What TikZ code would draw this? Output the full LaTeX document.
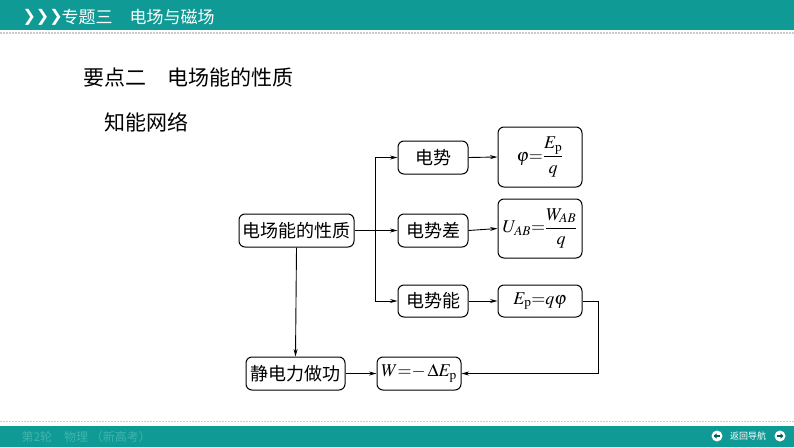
\documentclass[tikz,border=0pt]{standalone}
\usepackage{amsmath}
\usepackage{mathptmx}
\usepackage{fontspec}
\setmainfont{Liberation Serif}
\newfontfamily\cjk{Noto Sans CJK SC}
\newfontfamily\djv{DejaVu Sans}
\usetikzlibrary{arrows.meta}
\definecolor{teal1}{HTML}{109A95}
\definecolor{teal2}{HTML}{3FB5AF}
\tikzset{
  box/.style={draw, line width=1pt, rounded corners=6pt, inner sep=0pt, font=\cjk\fontsize{18}{18}\selectfont},
  fbox/.style={box, font=\fontsize{18}{18}\selectfont},
  arr/.style={line width=0.9pt, -{Stealth[length=7.5pt,width=4pt]}},
  navbtn/.style={circle, fill=white, minimum size=11pt, inner sep=0pt},
  navarr/.style={line width=1.4pt, teal1!60!black, -{Triangle[length=3pt,width=5pt]}}
}
\begin{document}
\begin{tikzpicture}[x=1pt,y=-1pt]
\useasboundingbox (0,0) rectangle (794,447);
% header
\fill[teal1] (0,0) rectangle (794,30);
\draw[gray!40, line width=1.5pt, dash pattern=on 1.5pt off 1.5pt] (0,33) -- (794,33);
\node[text=white, font=\djv\bfseries\fontsize{16}{16}\selectfont, anchor=west] (chev) at (19,17) {❯❯❯};
\node[text=white, font=\cjk\fontsize{17}{17}\selectfont, anchor=west] (htitle) at (58,17) {专题三\quad 电场与磁场};
% footer
\draw[gray!40, line width=1pt, dash pattern=on 1.5pt off 1.5pt] (0,421) -- (794,421);
\fill[teal1] (0,426) rectangle (794,447);
\node[text=teal2, font=\cjk\fontsize{12}{12}\selectfont, anchor=west] (ftext) at (18,437) {第2轮\quad 物理\ （新高考）};
\node[navbtn] (lb) at (717,436) {};
\draw[navarr] ([xshift=3pt]lb.center) -- ([xshift=-3.5pt]lb.center);
\node[text=white, font=\cjk\fontsize{9}{9}\selectfont] (nav) at (748,436) {返回导航};
\node[navbtn] (rb) at (780,436) {};
\draw[navarr] ([xshift=-3pt]rb.center) -- ([xshift=3.5pt]rb.center);
% titles
\node[anchor=west, font=\cjk\fontsize{21}{21}\selectfont] (t1) at (80,77) {要点二\quad 电场能的性质};
\node[anchor=west, font=\cjk\fontsize{21}{21}\selectfont] (t2) at (101,122) {知能网络};
% boxes
\node[box, minimum width=115pt, minimum height=33pt] (p) at (296.5,230.5) {电场能的性质};
\node[box, minimum width=70pt, minimum height=33pt] (ds) at (433,157.5) {电势};
\node[box, minimum width=70pt, minimum height=33pt] (dsc) at (433,230.5) {电势差};
\node[box, minimum width=70pt, minimum height=32pt] (dsn) at (433,301) {电势能};
\node[fbox, minimum width=84pt, minimum height=60pt] (f1) at (540,157) {$\varphi{=}\dfrac{E_{\mathrm p}}{q}$};
\node[fbox, minimum width=84pt, minimum height=59pt] (f2) at (540,228.5) {$U_{AB}{=}\dfrac{W_{AB}}{q}$};
\node[fbox, minimum width=84pt, minimum height=32pt] (f3) at (540,301) {$E_{\mathrm p}{=}q\varphi$};
\node[box, minimum width=99pt, minimum height=33pt] (jd) at (295.5,373.5) {静电力做功};
\node[fbox, minimum width=84pt, minimum height=33pt] (w) at (419,373.5) {$W{=}{-}\,\Delta E_{\mathrm p}$};
% connectors
\coordinate (br) at (375,230.5);
\coordinate (rc) at (598,301);
\draw[arr] (p.east) -- (dsc.west);
\draw[arr] (br) |- (ds.west);
\draw[arr] (br) |- (dsn.west);
\draw[arr] (ds.east) -- (f1.west);
\draw[arr] (dsc.east) -- (f2.west);
\draw[arr] (dsn.east) -- (f3.west);
\draw[arr] (p.south) -- (jd.north);
\draw[arr] (jd.east) -- (w.west);
\draw[arr] (f3.east) -- (rc) |- (w.east);
\end{tikzpicture}
\end{document}
